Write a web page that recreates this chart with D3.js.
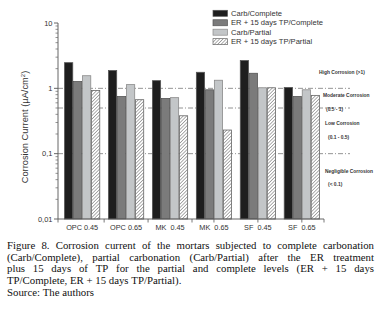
<!DOCTYPE html>
<html><head><meta charset="utf-8">
<script src="https://cdn.jsdelivr.net/npm/d3@7/dist/d3.min.js"></script>
<style>
html,body{margin:0;padding:0;background:#fff;}
svg{display:block;}
</style>
</head><body>
<svg id="c" width="383" height="317"></svg>
<script>
// ---- data ----
const categories = ["OPC 0.45","OPC 0.65","MK  0.45","MK  0.65","SF  0.45","SF  0.65"];
const seriesNames = ["Carb/Complete","ER + 15 days TP/Complete","Carb/Partial","ER + 15 days TP/Partial"];
const carbComplete   = [2.47, 1.87, 1.31, 1.76, 2.66, 1.03];
const erComplete     = [1.27, 0.75, 0.70, 0.95, 1.70, 0.75];
const carbPartial    = [1.56, 1.14, 0.72, 1.33, 1.02, 0.95];
const erPartial      = [0.93, 0.67, 0.38, 0.23, 1.02, 0.78];
const yTickValues = [10, 1, 0.1, 0.01];
const yTickLabels = ["10", "1", "0,1", "0,01"];
const refLines = [1, 0.5, 0.1];
const zones = [
  {lines:["High Corrosion (>1)"], v:1.75, dx:0},
  {lines:["Moderate Corrosion","(0.5 - 1)"], v:0.78, dx:4},
  {lines:["Low Corrosion","(0.1 - 0.5)"], v:0.29, dx:6},
  {lines:["Negligible Corrosion","(< 0.1)"], v:0.054, dx:6}
];
const yLabel = "Corrosion Current (µA/cm";
const captionLines = [
  "Figure 8. Corrosion current of the mortars subjected to complete carbonation",
  "(Carb/Complete), partial carbonation (Carb/Partial) after the ER treatment",
  "plus 15 days of TP for the partial and complete levels (ER + 15 days",
  "TP/Complete, ER + 15 days TP/Partial).",
  "Source: The authors"
];
const justified = [true, true, true, false, false];

const seriesValues = [carbComplete, erComplete, carbPartial, erPartial];
const fills = ["#1e1e1e", "#7b7b7b", "#c3c6c8", "url(#hatch)"];
const strokes = ["#555", "#555", "#8a8a8a", "#666"];

const svg = d3.select("#c");
const defs = svg.append("defs");
const pat = defs.append("pattern").attr("id","hatch").attr("patternUnits","userSpaceOnUse")
  .attr("width",2.4).attr("height",2.4).attr("patternTransform","rotate(45)");
pat.append("rect").attr("width",2.4).attr("height",2.4).attr("fill","#fff");
pat.append("line").attr("x1",0).attr("y1",0).attr("x2",0).attr("y2",2.4).attr("stroke","#6a6a6a").attr("stroke-width",1.1);

const x0 = 58, x1 = 324;
const y = d3.scaleLog().domain([0.01, 10]).range([219, 23]);
const x = d3.scaleBand().domain(categories).range([x0, 326]).paddingInner(0.18).paddingOuter(0.14);
const xs = d3.scaleBand().domain(seriesNames).range([0, x.bandwidth()]);

// reference lines (behind bars)
svg.append("g").selectAll("line").data(refLines).join("line")
  .attr("x1", x0).attr("x2", 350)
  .attr("y1", d => y(d)).attr("y2", d => y(d))
  .attr("stroke", "#777").attr("stroke-width", 0.8)
  .attr("stroke-dasharray", "5,2,1,2");

// bars
const rows = [];
categories.forEach((c, i) => seriesNames.forEach((s, j) => rows.push({c, s, j, v: seriesValues[j][i]})));
svg.append("g").selectAll("rect").data(rows).join("rect")
  .attr("x", d => x(d.c) + xs(d.s) + 0.4)
  .attr("width", xs.bandwidth() - 0.8)
  .attr("y", d => y(d.v))
  .attr("height", d => y(0.01) - y(d.v))
  .attr("fill", d => fills[d.j])
  .attr("stroke", d => strokes[d.j]).attr("stroke-width", 0.8);

// y axis
const ax = svg.append("g");
ax.append("line").attr("x1", x0).attr("x2", x0).attr("y1", y(10)).attr("y2", y(0.01)).attr("stroke", "#555").attr("stroke-width", 0.9);
const minor = [];
[0.01, 0.1, 1].forEach(b => { for (let k = 2; k <= 9; k++) minor.push(b * k); });
ax.selectAll(".mn").data(minor).join("line").attr("class","mn")
  .attr("x1", x0 - 2.5).attr("x2", x0).attr("y1", d => y(d)).attr("y2", d => y(d))
  .attr("stroke", "#666").attr("stroke-width", 0.7);
ax.selectAll(".mj").data(yTickValues).join("line").attr("class","mj")
  .attr("x1", x0 - 4).attr("x2", x0).attr("y1", d => y(d)).attr("y2", d => y(d))
  .attr("stroke", "#555").attr("stroke-width", 0.9);
ax.selectAll("text").data(yTickValues).join("text")
  .attr("x", x0 - 5.5).attr("y", d => y(d) + 2.6)
  .attr("text-anchor", "end").attr("font-family", "Liberation Sans, Arial, sans-serif")
  .attr("font-size", 7.5).attr("fill", "#333")
  .text((d, i) => yTickLabels[i]);

// x axis
svg.append("line").attr("x1", x0).attr("x2", x1).attr("y1", y(0.01)).attr("y2", y(0.01)).attr("stroke", "#555").attr("stroke-width", 0.9);
const xt = [x0, x1];
for (let i = 0; i < 3; i++) xt.push((x(categories[i]) + x.bandwidth() + x(categories[i + 1])) / 2);
for (let i = 3; i < 6; i++) xt.push(x(categories[i]) + x.bandwidth() / 2);
svg.append("g").selectAll("line").data(xt).join("line")
  .attr("x1", d => d).attr("x2", d => d).attr("y1", y(0.01)).attr("y2", y(0.01) + 3.5)
  .attr("stroke", "#555").attr("stroke-width", 0.8);
svg.append("g").selectAll("text").data(categories).join("text")
  .attr("x", d => x(d) + x.bandwidth() / 2).attr("y", y(0.01) + 10.5)
  .attr("text-anchor", "middle").attr("font-family", "Liberation Sans, Arial, sans-serif")
  .attr("font-size", 7.3).attr("fill", "#333").attr("xml:space", "preserve")
  .style("white-space", "pre")
  .text(d => d);

// y label
const yl = svg.append("text").attr("transform", "translate(28,127) rotate(-90)")
  .attr("text-anchor", "middle").attr("font-family", "Liberation Sans, Arial, sans-serif")
  .attr("font-size", 9.3).attr("fill", "#333");
yl.append("tspan").text(yLabel);
yl.append("tspan").attr("dy", -3.5).attr("font-size", 6).text("2");
yl.append("tspan").attr("dy", 3.5).text(")");

// legend
const lg = svg.append("g").selectAll("g").data(seriesNames).join("g")
  .attr("transform", (d, i) => `translate(213,${13.3 + i * 9.45})`);
lg.append("rect").attr("x", 0).attr("y", -3).attr("width", 14.5).attr("height", 6)
  .attr("fill", (d, i) => fills[i]).attr("stroke", (d, i) => strokes[i]).attr("stroke-width", 0.7);
lg.append("text").attr("x", 18).attr("y", 2.7)
  .attr("font-family", "Liberation Sans, Arial, sans-serif").attr("font-size", 7.6).attr("fill", "#333")
  .text(d => d);

// zone annotations
const zg = svg.append("g").attr("font-family", "Liberation Sans, Arial, sans-serif")
  .attr("font-size", 4.9).attr("fill", "#333").attr("font-weight", "bold");
zones.forEach(z => {
  z.lines.forEach((t, k) => {
    zg.append("text").attr("x", 319 + (k === 1 ? z.dx + 3 : (z.dx)) ).attr("y", y(z.v) + 2 + k * 13.3).text(t);
  });
});

// caption (justified, fixed line breaks)
const cap = svg.append("g").attr("font-family", "Liberation Serif, Times New Roman, serif")
  .attr("font-size", 10.8).attr("fill", "#111");
const left = 7, right = 374, base0 = 249, lh = 11.7;
const meas = cap.append("text").attr("visibility", "hidden");
function w(s) { meas.text(s); return meas.node().getComputedTextLength(); }
const spaceW = w("a a") - w("aa");
captionLines.forEach((line, li) => {
  const by = base0 + li * lh;
  const ln = line.split(" ");
  const ws = ln.map(w);
  const total = d3.sum(ws);
  let gap = spaceW;
  if (justified[li] && ln.length > 1) gap = Math.max(1.5, (right - left - total) / (ln.length - 1));
  let cx = left;
  ln.forEach((wd, k) => { cap.append("text").attr("x", cx).attr("y", by).text(wd); cx += ws[k] + gap; });
});
meas.remove();
</script>
</body></html>
